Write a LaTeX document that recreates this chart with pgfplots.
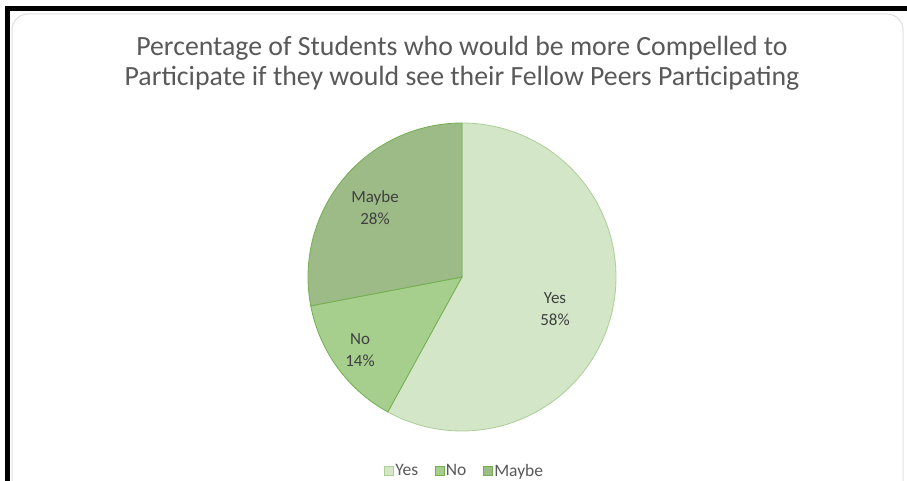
\documentclass[border=0pt]{standalone}
\usepackage{fontspec}
\setmainfont{Carlito}
\usepackage{pgfplots}
\usepackage{pgfplotstable}
\pgfplotsset{compat=1.18}
\definecolor{yescol}{HTML}{D3E6C8}
\definecolor{nocol}{HTML}{A6CF8D}
\definecolor{maybecol}{HTML}{9DBB87}
\definecolor{edgecol}{HTML}{74AE52}
\definecolor{titlecol}{HTML}{595959}
\definecolor{labcol}{HTML}{404040}
\pgfplotstableread{
label value
Yes 58
No 14
Maybe 28
}\piedata
\begin{document}%
\begin{tikzpicture}
\pgfplotstablegetelem{0}{value}\of\piedata \let\vA\pgfplotsretval
\pgfplotstablegetelem{1}{value}\of\piedata \let\vB\pgfplotsretval
\pgfplotstablegetelem{2}{value}\of\piedata \let\vC\pgfplotsretval
\pgfmathsetmacro{\aA}{90}
\pgfmathsetmacro{\aB}{90-3.6*\vA}
\pgfmathsetmacro{\aC}{\aB-3.6*\vB}
\pgfmathsetmacro{\aD}{\aC-3.6*\vC}
\fill[white] (0pt,0pt) rectangle (907pt,480pt);
\draw[gray!25, line width=1pt, rounded corners=16pt] (12pt,-20pt) rectangle (903pt,466pt);
\draw[black, line width=5pt] (7.5pt,-5pt) -- (7.5pt,471pt) -- (912pt,471pt);
\node[align=center, text=titlecol, font=\fontsize{27.8}{30}\selectfont] at (462pt,417pt)
  {Percentage of Students who would be more Compelled to\\Participate if they would see their Fellow Peers Participating};
\begin{axis}[
  at={(462pt,203pt)}, anchor=origin,
  width=308pt, height=308pt, scale only axis,
  xmin=-1, xmax=1, ymin=-1, ymax=1,
  hide axis, clip=false,
  legend columns=3,
  area legend,
  legend image code/.code={\draw[#1, line width=0.8pt] (0pt,-4pt) rectangle (9pt,5pt);},
  legend style={at={(axis cs:0.015,-1.26)}, anchor=center, draw=none, fill=none,
    font=\fontsize{17.5}{19}\selectfont, text=titlecol,
    nodes={inner sep=1.5pt},
    /tikz/every even column/.append style={column sep=15pt}},
]
\addplot[fill=yescol, draw=edgecol!60, line width=0.8pt, domain=\aB:\aA, samples=120, variable=\t]
  ({cos(\t)},{sin(\t)}) -- (axis cs:0,0) -- cycle;
\addlegendentry{Yes}
\addplot[fill=nocol, draw=edgecol, line width=0.8pt, domain=\aC:\aB, samples=40, variable=\t]
  ({cos(\t)},{sin(\t)}) -- (axis cs:0,0) -- cycle;
\addlegendentry{No}
\addplot[fill=maybecol, draw=edgecol, line width=0.8pt, domain=\aD:\aC, samples=60, variable=\t]
  ({cos(\t)},{sin(\t)}) -- (axis cs:0,0) -- cycle;
\addlegendentry{Maybe}
\node[align=center, text=labcol, font=\fontsize{17}{22}\selectfont] at (axis cs:0.604,-0.208) {Yes\\58\%};
\node[align=center, text=labcol, font=\fontsize{17}{22}\selectfont] at (axis cs:-0.662,-0.474) {No\\14\%};
\node[align=center, text=labcol, font=\fontsize{17}{22}\selectfont] at (axis cs:-0.565,0.448) {Maybe\\28\%};
\end{axis}
\pgfresetboundingbox
\useasboundingbox (0pt,0pt) rectangle (907pt,480pt);
\end{tikzpicture}%
\end{document}
